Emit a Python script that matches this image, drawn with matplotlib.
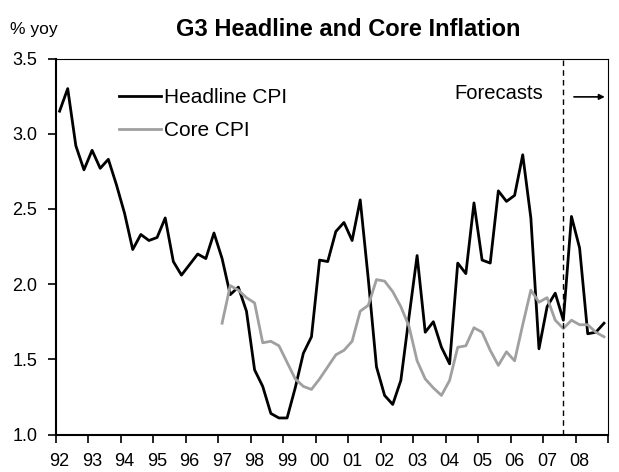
import numpy as np
import matplotlib
matplotlib.use('Agg')
import matplotlib.pyplot as plt

plt.rcParams['font.family'] = ['Liberation Sans', 'DejaVu Sans']

# quarterly data, 92Q1 - 08Q4
years = ['92', '93', '94', '95', '96', '97', '98', '99', '00',
         '01', '02', '03', '04', '05', '06', '07', '08']

headline = [3.15, 3.30, 2.92, 2.76,
            2.89, 2.77, 2.83, 2.66,
            2.47, 2.23, 2.33, 2.29,
            2.31, 2.44, 2.15, 2.06,
            2.13, 2.20, 2.17, 2.34,
            2.17, 1.93, 1.98, 1.82,
            1.43, 1.32, 1.14, 1.11,
            1.11, 1.31, 1.54, 1.65,
            2.16, 2.15, 2.35, 2.41,
            2.29, 2.56, 2.03, 1.45,
            1.26, 1.20, 1.36, 1.78,
            2.19, 1.68, 1.75, 1.58,
            1.47, 2.14, 2.07, 2.54,
            2.16, 2.14, 2.62, 2.55,
            2.59, 2.86, 2.44, 1.57,
            1.85, 1.94, 1.76, 2.45,
            2.24, 1.67, 1.68, 1.74]

# core starts 97Q1
core_start = 20
core = [1.74, 1.99, 1.96, 1.91,
        1.875, 1.61, 1.62, 1.59,
        1.48, 1.37, 1.32, 1.30,
        1.37, 1.45, 1.53, 1.56,
        1.62, 1.82, 1.86, 2.03,
        2.02, 1.95, 1.85, 1.72,
        1.49, 1.37, 1.31, 1.26,
        1.36, 1.58, 1.59, 1.71,
        1.68, 1.56, 1.46, 1.55,
        1.49, 1.73, 1.96, 1.88,
        1.91, 1.76, 1.705, 1.76,
        1.73, 1.73, 1.68, 1.65]

forecast_start = 62  # 07Q3

x = np.arange(len(headline))
xc = np.arange(core_start, core_start + len(core))

fig = plt.figure(figsize=(6.19, 4.72), dpi=100)
ax = fig.add_axes([0.0897, 0.0794, 0.8926, 0.7966])

ax.plot(x, headline, color='black', lw=2.0, label='Headline CPI')
ax.plot(xc, core, color='#a0a0a0', lw=2.0, label='Core CPI')
ax.axvline(forecast_start, color='black', lw=1.0, ls=(0, (4, 3)))

ax.set_xlim(-0.5, len(headline) - 0.5)
ax.set_ylim(1.0, 3.5)
ax.set_yticks(np.arange(1.0, 3.51, 0.5))
ax.set_yticklabels(['%.1f' % v for v in np.arange(1.0, 3.51, 0.5)], fontsize=13)

# ticks at year boundaries, labels at first quarter
ax.set_xticks(np.arange(-0.5, len(headline), 4))
ax.set_xticklabels([])
ax.set_xticks(np.arange(0, len(headline), 4), minor=True)
ax.set_xticklabels(years, minor=True, fontsize=13)
ax.tick_params(axis='x', which='major', direction='out', length=6, width=1.2)
ax.tick_params(axis='x', which='minor', length=0, pad=13)
ax.tick_params(axis='y', direction='out', length=6, width=1.2, pad=7)

for s in ['left', 'bottom']:
    ax.spines[s].set_linewidth(1.5)
for s in ['top', 'right']:
    ax.spines[s].set_linewidth(0.8)

ax.legend(loc='upper left', bbox_to_anchor=(0.115, 0.922), frameon=False,
          fontsize=15, handlelength=2.0, handletextpad=0.15, labelspacing=0.7,
          borderpad=0, borderaxespad=0)

ax.text(59.5, 3.27, 'Forecasts', ha='right', va='center', fontsize=14.5)
ax.annotate('', xy=(67.1, 3.245), xytext=(63.3, 3.245),
            arrowprops=dict(arrowstyle='-|>', color='black', lw=1.2,
                            mutation_scale=8, shrinkA=0, shrinkB=0))

fig.text(0.562, 0.938, 'G3 Headline and Core Inflation', ha='center', va='center',
         fontsize=17, fontweight='bold')
fig.text(0.016, 0.938, '% yoy', ha='left', va='center', fontsize=12.5)

fig.savefig('out.png', dpi=100)
